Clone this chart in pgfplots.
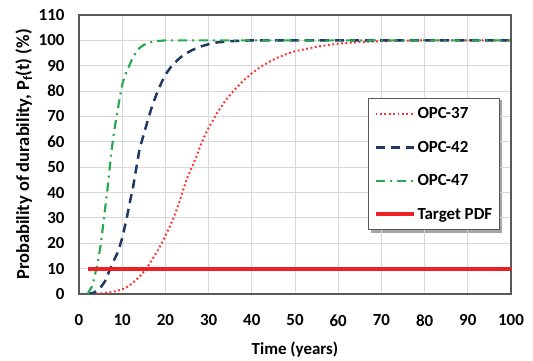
\documentclass[border=0pt]{standalone}
\usepackage{pgfplots}
\pgfplotsset{compat=1.18}
\usepackage{fontspec}
\setmainfont{Carlito}
\pgfdeclarelayer{background}
\pgfsetlayers{background,main}
\definecolor{cred}{RGB}{255,45,45}
\definecolor{tred}{RGB}{237,32,36}
\definecolor{cblue}{RGB}{31,56,100}
\definecolor{cgreen}{RGB}{40,170,80}
\definecolor{gridc}{RGB}{217,217,217}
\definecolor{axc}{RGB}{89,89,89}
\begin{document}
\begin{tikzpicture}
\path[use as bounding box] (0,0) rectangle (533bp,361bp);
\begin{axis}[
  at={(79bp,67bp)}, anchor=south west,
  scale only axis, width=432bp, height=279bp,
  xmin=0, xmax=100, ymin=0, ymax=110,
  xtick={0,10,...,100}, ytick={0,10,...,110},
  grid=major, major grid style={gridc, line width=1bp},
  axis line style={axc, line width=1.2bp},
  major tick length=0pt,
  font=\fontsize{17}{20}\selectfont\bfseries,
  /pgf/number format/assume math mode=true,
  xticklabel style={yshift=-17bp},
  yticklabel style={xshift=-11bp},
  xlabel={Time (years)}, ylabel={Probability of durability, P\textsubscript{f}(t) (\%)},
  xlabel style={at={(axis description cs:0.5,-0.2)}, anchor=center},
  ylabel style={at={(axis description cs:-0.128,0.5)}, anchor=center, font=\fontsize{18.5}{21}\selectfont\bfseries},
  legend cell align=left,
  legend image code/.code={\draw[#1] (0bp,0bp) -- (38bp,0bp);},
  legend style={at={(axis description cs:0.669,0.7025)}, anchor=north west, name=leg,
    draw=axc, line width=1bp, fill=white, inner xsep=5bp, inner ysep=7bp, row sep=17bp,
    font=\fontsize{17}{20}\selectfont\bfseries},
]
\addplot[cred, line width=2bp, dash pattern=on 1.8bp off 2.6bp] coordinates {
(2,0) (4,0) (6,0.4) (8,0.9) (10,1.8) (11,2.6) (12,3.8) (13,5.2) (14,6.8) (15,8.8)
(16,11) (17,13.8) (18,16.5) (19,19.5) (20,23) (21,26.5) (22,30.5) (23,35) (24,40.5)
(25,45.5) (26,49.5) (27,53.5) (28,58) (29,62) (30,65.5) (31,68.5) (32,71.5) (33,74)
(34,76.5) (35,78.5) (36,80.5) (38,84) (40,87) (42,89.5) (44,91.5) (46,93.2) (48,94.6)
(50,95.7) (55,97.5) (60,98.7) (65,99.3) (70,99.7) (75,99.9) (80,100) (100,100)};
\addlegendentry{OPC-37}
\addplot[cblue, line width=2.5bp, dash pattern=on 9bp off 6bp] coordinates {
(2,0) (3,0.3) (4,1) (5,2.5) (6,5) (7,9) (8,13) (9,16.5) (10,22) (11,29.5) (12,38)
(12.5,42) (13,47) (13.5,52) (14,57) (15,63) (16,69) (17,74.5) (18,79) (19,83) (20,86.5)
(21.5,90) (23,92.5) (24,94) (26,96) (28,97.5) (30,98.5) (32,99.2) (35,99.7) (40,100) (100,100)};
\addlegendentry{OPC-42}
\addplot[cgreen, line width=2.2bp, dash pattern=on 9bp off 5bp on 2bp off 5bp] coordinates {
(2,0) (3,3) (3.5,6) (4,10) (4.5,14) (5,19) (5.5,26) (6,33) (6.5,40) (7,48) (7.5,56)
(8,62.5) (8.5,68) (9,73) (9.5,78) (10,82.5) (10.5,85.5) (11,87.5) (11.5,89.5) (12,91.5)
(12.5,93.2) (13,94.7) (14,97) (15,98.2) (16,99) (17,99.4) (18,99.7) (20,100) (100,100)};
\addlegendentry{OPC-47}
\addplot[tred, line width=4bp] coordinates {(2,10) (100,10)};
\addlegendentry{Target PDF}
\end{axis}
\begin{pgfonlayer}{background}
\fill[black, opacity=0.35] ([shift={(2.5bp,-2.5bp)}]leg.south west) rectangle ([shift={(2.5bp,-2.5bp)}]leg.north east);
\end{pgfonlayer}
\end{tikzpicture}
\end{document}
